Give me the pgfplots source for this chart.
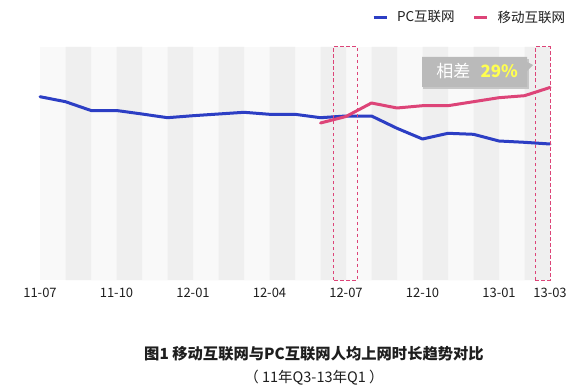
\documentclass[border=0pt]{standalone}
\usepackage{fontspec}
\setmainfont{Noto Sans CJK SC}
\usepackage{pgfplots}
\pgfplotsset{compat=1.18}
\definecolor{pcblue}{RGB}{44,62,196}
\definecolor{mopink}{RGB}{221,68,120}
\definecolor{stripeA}{RGB}{249,249,249}
\definecolor{stripeB}{RGB}{239,239,239}
\definecolor{callout}{RGB}{186,186,186}
\definecolor{txt}{RGB}{30,30,30}

\begin{document}
\begin{tikzpicture}[x=1pt,y=1pt]
\useasboundingbox (0,0) rectangle (580,389);
\fill[white] (0,0) rectangle (580,389);
\begin{axis}[
  at={(40pt,109pt)}, anchor=south west, scale only axis,
  width=510pt, height=233pt,
  xmin=0, xmax=20, ymin=0, ymax=233,
  axis line style={draw=none},
  xtick={0,3,6,9,12,15,18,20},
  xticklabels={11-07,11-10,12-01,12-04,12-07,12-10,13-01,13-03},
  ytick=\empty,
  major tick length=0pt,
  x tick label style={font=\fontsize{13}{13}\selectfont, text=txt, yshift=-5pt},
  clip=false,
  legend columns=2,
  legend style={at={(1.04,1.128)}, anchor=east, draw=none, fill=none,
    font=\fontsize{13.5}{13.5}\selectfont, text=txt,
    /tikz/every even column/.append style={column sep=16pt}},
  legend image code/.code={\draw[#1, line width=3pt, line cap=butt] (2pt,0pt) -- (15pt,0pt); \path (22pt,0pt);},
]
% background stripes
\addplot[fill=stripeA, draw=none, forget plot] coordinates {(0,0)(0,233)(20,233)(20,0)} -- cycle;
\addplot[fill=stripeB, draw=none, forget plot] coordinates {
(1,0)(1,233)(2,233)(2,0)
(3,0)(3,233)(4,233)(4,0)
(5,0)(5,233)(6,233)(6,0)
(7,0)(7,233)(8,233)(8,0)
(9,0)(9,233)(10,233)(10,0)
(11,0)(11,233)(12,233)(12,0)
(13,0)(13,233)(14,233)(14,0)
(15,0)(15,233)(16,233)(16,0)
(17,0)(17,233)(18,233)(18,0)
(19,0)(19,233)(20,233)(20,0)} -- cycle;

\addplot[pcblue, line width=3pt, line join=round, line cap=round] coordinates {
(0,183.3)(1,178.3)(2,169.5)(3,169.5)(4,166)(5,162.3)(6,164.3)(7,166)
(8,167.7)(9,165.7)(10,165.7)(11,162.3)(12,164)(13,164)(14,151.7)
(15,141)(16,146.7)(17,145.7)(18,139)(19,137.7)(20,136)};
\addlegendentry{PC互联网}
\addplot[mopink, line width=3pt, line join=round, line cap=round] coordinates {
(11,157)(12,163.5)(13,177)(14,172)(15,174.3)(16,174.3)(17,178.3)
(18,182.3)(19,184.3)(20,192.5)};
\addlegendentry{移动互联网}

% dashed highlight boxes
\draw[mopink, line width=1pt, dash pattern=on 3.5pt off 2.5pt] (axis cs:11.5,0) rectangle (axis cs:12.45,233);
\draw[mopink, line width=1pt, dash pattern=on 3.5pt off 2.5pt] (axis cs:19.42,0) rectangle (axis cs:20,233);
\end{axis}

% callout
\fill[black!22] (423,300) rectangle (529,330);
\fill[callout] (422,302) -- (422,332) -- (527,332) -- (527,327) -- (533,324) -- (527,318) -- (527,302) -- cycle;
\node[font=\fontsize{17}{17}\selectfont, text=white, anchor=east] at (474,317.5) {相差};
\node[font=\fontsize{17}{17}\selectfont\bfseries, text={rgb,255:red,255;green,255;blue,80}, anchor=west] at (477,317.5) {29\%};

% titles
\node[font=\fontsize{15.3}{15.3}\selectfont\bfseries, text=txt] at (314,35) {图1 移动互联网与PC互联网人均上网时长趋势对比};
\node[font=\fontsize{14.5}{14.5}\selectfont, text=txt] at (314,11) {（ 11年Q3-13年Q1 ）};
\end{tikzpicture}
\end{document}
